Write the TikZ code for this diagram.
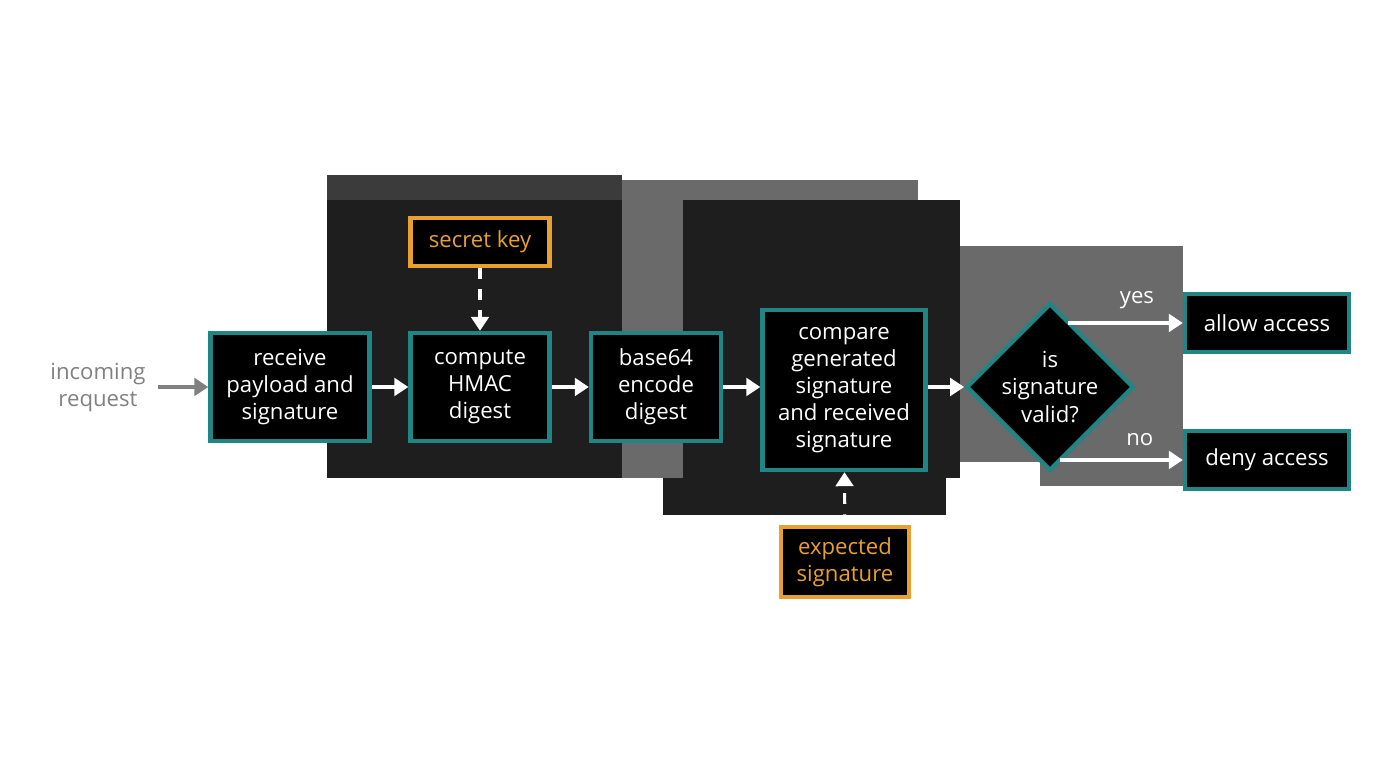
\documentclass[tikz,border=0pt]{standalone}
\usepackage{fontspec}
\setmainfont{Open Sans}
\usetikzlibrary{shapes.geometric,arrows.meta}
\definecolor{teal}{HTML}{1F8585}
\definecolor{keyorange}{HTML}{E8A030}
\definecolor{panel}{HTML}{1E1E1E}
\definecolor{panelgray}{HTML}{6A6A6A}
\tikzset{
  stage/.style={draw=teal,line width=1.2pt,fill=black,text=white,align=center,
    font=\fontsize{6.3}{7.7}\selectfont,inner sep=0pt},
  key/.style={draw=keyorange,line width=1.2pt,fill=black,text=keyorange,align=center,
    font=\fontsize{6.3}{7.7}\selectfont,inner sep=0pt},
  flow/.style={white,line width=1.4pt,-{Triangle[length=4pt,width=5pt]}},
  feed/.style={flow,dashed,line width=0.9pt}
}
\begin{document}
\begin{tikzpicture}[x=0.01cm,y=-0.01cm]
\useasboundingbox (0,0) rectangle (1376,768);
% background panels
\fill[panelgray] (622,180) rectangle (918,478);
\fill[panel] (327,175) rectangle (622,478);
\fill[panel!70!gray] (327,175) rectangle (622,200);
\fill[panelgray] (946,246) rectangle (1183,486);
\fill[white] (946,462) rectangle (1040,486);
\fill[panel] (683,200) rectangle (960,478);
\fill[panel] (663,478) rectangle (946,515);
% nodes
\node[stage,minimum width=1.59cm,minimum height=1.08cm] (recv) at (290,387) {receive\\payload and\\signature};
\node[stage,minimum width=1.39cm,minimum height=1.08cm] (hmac) at (480,387) {compute\\HMAC\\digest};
\node[stage,minimum width=1.30cm,minimum height=1.08cm] (enc) at (656,387) {base64\\encode\\digest};
\node[stage,minimum width=1.63cm,minimum height=1.60cm] (cmp) at (844,390) {compare\\generated\\signature\\and received\\signature};
\node[stage,diamond,minimum width=1.60cm,minimum height=1.60cm] (valid) at (1050,387) {is\\signature\\valid?};
\node[stage,minimum width=1.64cm,minimum height=0.58cm] (allow) at (1267,323) {allow access};
\node[stage,minimum width=1.64cm,minimum height=0.58cm] (deny) at (1267,460) {deny access};
\node[key,minimum width=1.39cm,minimum height=0.48cm] (secret) at (480,242) {secret key};
\node[key,minimum width=1.28cm,minimum height=0.70cm] (expect) at (845,562) {expected\\signature};
\node[text=gray,align=center,font=\fontsize{6.3}{7.7}\selectfont] (req) at (98,388) {incoming\\request};
% connectors
\coordinate (reqA) at (158,387);
\draw[gray,line width=1.4pt,-{Triangle[length=4pt,width=5pt]}] (reqA) -- (recv.west);
\draw[flow] (recv) -- (hmac);
\draw[flow] (hmac) -- (enc);
\draw[flow] (enc.east) -- (enc.east -| cmp.west);
\draw[flow] (valid.west -| cmp.east) -- (valid.west);
\draw[feed] (secret) -- (hmac);
\draw[feed] (expect) -- (cmp);
\coordinate (yesA) at (1068,323);
\coordinate (noA) at (1060,460);
\draw[flow] (yesA) -- node[above,text=white,font=\fontsize{6.3}{7.7}\selectfont,pos=0.6] {yes} (allow);
\draw[flow] (noA) -- node[above,text=white,font=\fontsize{6.3}{7.7}\selectfont,pos=0.65] {no} (deny);
\end{tikzpicture}
\end{document}
